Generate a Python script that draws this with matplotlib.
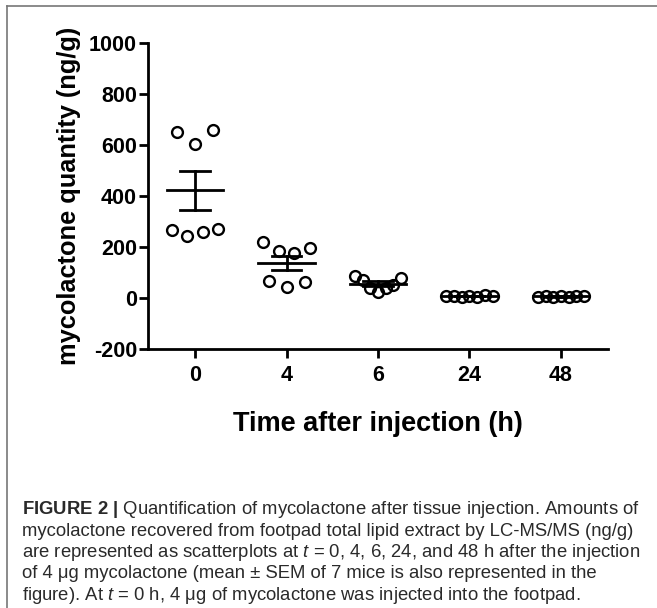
import matplotlib
matplotlib.use("Agg")
import matplotlib.pyplot as plt
import numpy as np
from matplotlib.lines import Line2D

plt.rcParams['font.family'] = ['Liberation Sans', 'DejaVu Sans']
plt.rcParams['mathtext.fontset'] = 'custom'
plt.rcParams['mathtext.rm'] = 'Liberation Sans'
plt.rcParams['mathtext.it'] = 'Liberation Sans:italic'
plt.rcParams['mathtext.bf'] = 'Liberation Sans:bold'
plt.rcParams['axes.unicode_minus'] = False

# данные (ng/g)
time_labels = ['0', '4', '6', '24', '48']
t0 = [652, 605, 659, 268, 245, 259, 270]
t4 = [218, 186, 178, 198, 68, 44, 62]
t6 = [87, 71, 41, 22, 41, 51, 78]
t24 = [6, 9, 4, 8, 5, 10, 7]
t48 = [5, 8, 4, 7, 3, 9, 6]
groups = [t0, t4, t6, t24, t48]

caption = [
    r"$\mathbf{FIGURE\ 2\ |}$ Quantification of mycolactone after tissue injection. Amounts of",
    "mycolactone recovered from footpad total lipid extract by LC-MS/MS (ng/g)",
    r"are represented as scatterplots at $t$ = 0, 4, 6, 24, and 48 h after the injection",
    "of 4 μg mycolactone (mean ± SEM of 7 mice is also represented in the",
    r"figure). At $t$ = 0 h, 4 μg of mycolactone was injected into the footpad.",
]


def row_offsets(vals, gap=60, max_w=0.505, max_step=0.197):
    # раскладка точек по рядам, как в GraphPad
    vals = np.asarray(vals, dtype=float)
    order = np.argsort(vals, kind='stable')
    rows, cur = [], [order[0]]
    for a, b in zip(order[:-1], order[1:]):
        if vals[b] - vals[a] > gap:
            rows.append(cur)
            cur = []
        cur.append(b)
    rows.append(cur)
    off = np.zeros(len(vals))
    for r in rows:
        r = sorted(r)
        n = len(r)
        if n > 1:
            step = min(max_step, max_w / (n - 1))
            off[r] = (np.arange(n) - (n - 1) / 2) * step
    return off


W, H = 657, 608
fig = plt.figure(figsize=(W / 100, H / 100), dpi=100)
ax = fig.add_axes([148 / W, 1 - 349 / H, (608 - 148) / W, (349 - 43) / H])

for i, vals in enumerate(groups):
    xs = i + row_offsets(vals)
    ax.plot(xs, vals, 'o', ms=7.8, mfc='none', mec='black', mew=1.7, clip_on=False)
    m = np.mean(vals)
    sem = np.std(vals, ddof=1) / np.sqrt(len(vals))
    ax.plot([i - 0.31, i + 0.31], [m, m], color='black', lw=2)
    ax.plot([i, i], [m - sem, m + sem], color='black', lw=2)
    ax.plot([i - 0.16, i + 0.16], [m + sem, m + sem], color='black', lw=2)
    ax.plot([i - 0.16, i + 0.16], [m - sem, m - sem], color='black', lw=2)

ax.set_xlim(-0.515, 4.515)
ax.set_ylim(-200, 1000)
ax.set_yticks(np.arange(-200, 1001, 200))
ax.set_xticks(range(len(time_labels)))
ax.set_xticklabels(time_labels)
for s in ['top', 'right']:
    ax.spines[s].set_visible(False)
for s in ['left', 'bottom']:
    ax.spines[s].set_linewidth(2)
ax.tick_params(axis='both', width=2, length=6.5, labelsize=15.5)
ax.tick_params(axis='y', pad=1.5)
ax.tick_params(axis='x', pad=5)
for lab in ax.get_xticklabels() + ax.get_yticklabels():
    lab.set_fontweight('bold')

fig.text(378 / W, 1 - 431 / H, 'Time after injection (h)', ha='center', va='baseline',
         fontsize=19.5, fontweight='bold')
fig.text(69 / W, 1 - 195.5 / H, 'mycolactone quantity (ng/g)', ha='center', va='center',
         rotation=90, fontsize=18.3, fontweight='bold')

for k, line in enumerate(caption):
    fig.text(22 / W, 1 - (514 + k * 21.5) / H, line, ha='left', va='baseline',
             fontsize=13.3, color='#2a2a2a')

# рамка
fig.add_artist(Line2D([7 / W, 1], [1 - 6 / H, 1 - 6 / H], transform=fig.transFigure,
                      color='#777777', lw=1.2))
fig.add_artist(Line2D([7 / W, 7 / W], [0, 1 - 6 / H], transform=fig.transFigure,
                      color='#777777', lw=1.2))

fig.savefig('out.png', dpi=100)
